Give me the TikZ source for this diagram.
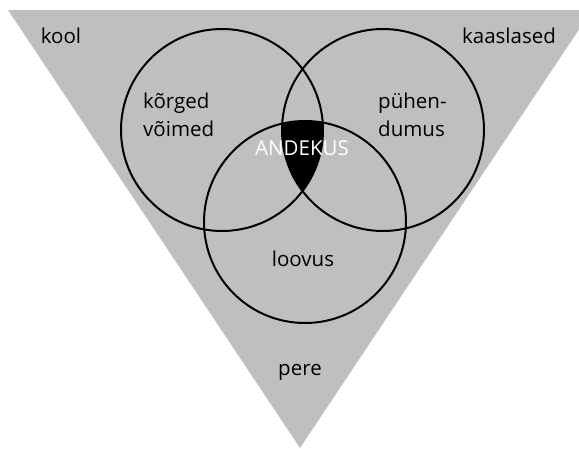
\documentclass[tikz,border=0pt]{standalone}
\usepackage{fontspec}
\setmainfont{Open Sans}
\definecolor{tri}{RGB}{192,191,190}
\begin{document}
\begin{tikzpicture}[x=1pt,y=-1pt,
  lbl/.style={font=\fontsize{20.5}{28}\selectfont, inner sep=0pt, text=black},
  ring/.style={draw=black, line width=2pt}]
\useasboundingbox (0,0) rectangle (579,448);
\clip (0,0) rectangle (579,448);
\coordinate (L) at (222,130);
\coordinate (R) at (383,130);
\coordinate (B) at (305,222);
\fill[tri] (8,10) -- (592,10) -- (300,448) -- cycle;
\begin{scope}
  \clip (L) circle (101);
  \clip (R) circle (101);
  \fill[black] (B) circle (101);
\end{scope}
\draw[ring] (L) circle (101);
\draw[ring] (R) circle (101);
\draw[ring] (B) circle (101);
\node[lbl, anchor=base] (kool) at (61,43) {kool};
\node[lbl, anchor=base] (kaaslased) at (509,43) {kaaslased};
\node[lbl, anchor=base west] (k1) at (143,108) {kõrged};
\node[lbl, anchor=base west] (k2) at (143,136) {võimed};
\node[lbl, anchor=base west] (p1) at (378,108) {pühen-};
\node[lbl, anchor=base west] (p2) at (378,136) {dumus};
\node[lbl, anchor=base, text=white] (andekus) at (302,155) {ANDEKUS};
\node[lbl, anchor=base] (loovus) at (303,266) {loovus};
\node[lbl, anchor=base] (pere) at (300,375) {pere};
\end{tikzpicture}
\end{document}
